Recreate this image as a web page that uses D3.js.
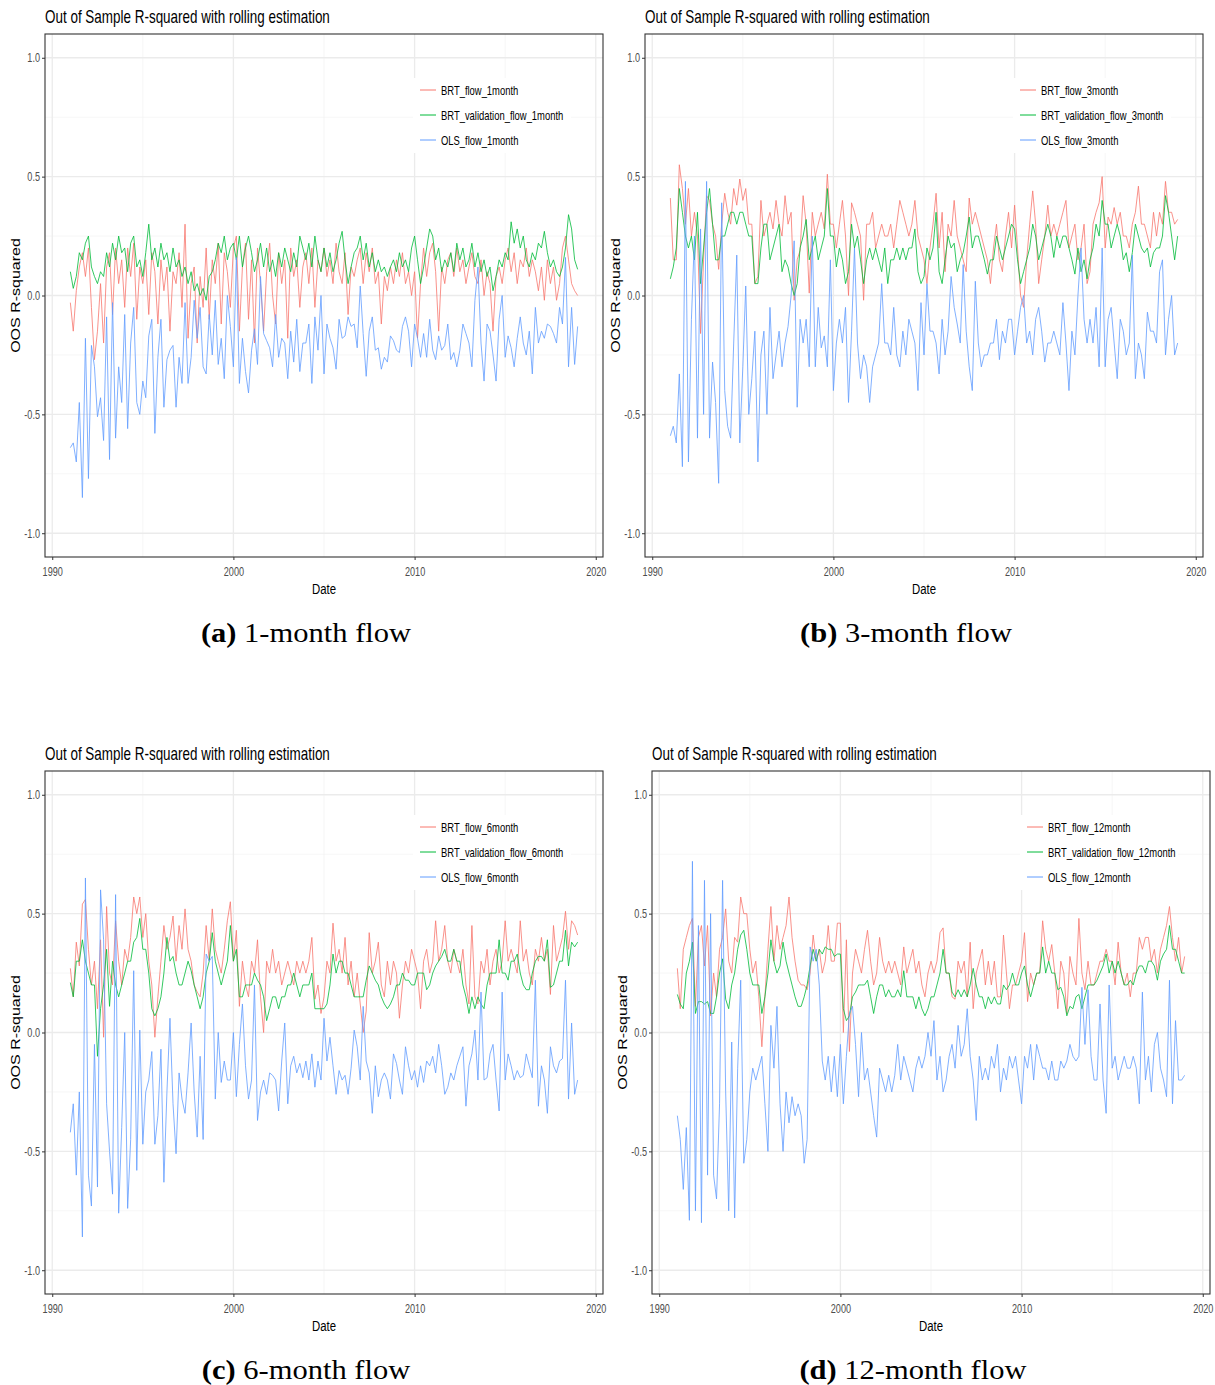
<!DOCTYPE html>
<html>
<head>
<meta charset="utf-8">
<script src="https://cdn.jsdelivr.net/npm/d3@7"></script>
<style>
    body { margin: 0; background: #fff; }
    svg { display: block; }
</style>
</head>
<body>
<svg id="fig" width="1215" height="1385"></svg>
<script>
// bimonthly OOS R-squared, Jan 1991 .. Jan 2019 (one line per year)
const brt1 = [
    -0.03, -0.15, 0.02, 0.12, 0.18, 0.08,
    0.2, -0.05, -0.27, -0.15, 0.05, -0.2,
    0.12, 0.18, -0.08, 0.2, 0.05, 0.15,
    -0.05, 0.2, 0.08, 0.22, -0.1, 0.12,
    0.05, 0.15, -0.08, 0.18, 0.1, -0.12,
    0.15, 0.02, 0.12, -0.15, 0.1, 0.05,
    0.18, -0.05, 0.3, -0.18, 0.05, 0.12,
    -0.2, 0.08, -0.05, 0.2, -0.1, 0.15,
    0.05, 0.22, -0.12, 0.18, 0.1, -0.05,
    0.2, 0.25, -0.15, 0.12, 0.22, -0.1,
    0.15, -0.2, 0.2, 0.05, -0.15, 0.1,
    0.22, 0.0, -0.12, 0.18, 0.05, 0.15,
    -0.18, 0.2, 0.08, 0.15, -0.05, 0.12,
    0.18, 0.05, 0.2, -0.05, 0.15, 0.1,
    0.2, 0.08, 0.15, 0.05, 0.22, 0.1,
    0.05, 0.18, -0.08, 0.12, 0.08, 0.15,
    0.2, 0.05, 0.18, 0.1, 0.2, 0.05,
    0.1, -0.12, 0.08, 0.02, 0.12, 0.05,
    0.15, 0.08, 0.18, 0.05, 0.1, 0.0,
    0.1, -0.18, 0.05, 0.2, 0.08, 0.18,
    0.22, 0.1, -0.15, 0.12, 0.05, 0.15,
    0.18, 0.08, 0.2, 0.1, 0.15, 0.05,
    0.12, 0.18, 0.08, 0.05, 0.15, 0.0,
    0.1, 0.05, -0.15, 0.08, 0.12, 0.05,
    0.15, 0.2, 0.1, 0.18, 0.05, 0.15,
    0.12, 0.2, 0.08, 0.15, 0.1, 0.02,
    0.12, -0.02, 0.15, 0.05, 0.12, -0.02,
    0.05, 0.2, 0.25, 0.15, 0.05, 0.02,
    0.0
]
const val1 = [
    0.1, 0.03, 0.08, 0.18, 0.15, 0.22,
    0.25, 0.12, 0.08, 0.05, 0.1, 0.08,
    0.18, 0.12, 0.22, 0.15, 0.25, 0.18,
    0.2, 0.1, 0.22, 0.25, 0.12, 0.15,
    0.08, 0.18, 0.3, 0.15, 0.2, 0.12,
    0.22, 0.15, 0.18, 0.1, 0.2, 0.12,
    0.15, 0.08, 0.12, 0.05, 0.1, 0.02,
    0.05, 0.0, 0.03, -0.02, 0.08, 0.1,
    0.15, 0.22, 0.18, 0.25, 0.15, 0.2,
    0.22, 0.15, 0.25, 0.12, 0.2, 0.25,
    0.18, 0.1, 0.15, 0.22, 0.12, 0.2,
    0.1, 0.15, 0.08, 0.18, 0.12, 0.2,
    0.15, 0.1, 0.18, 0.12, 0.25, 0.2,
    0.15, 0.22, 0.12, 0.25, 0.15, 0.1,
    0.2, 0.12, 0.18, 0.1, 0.15, 0.22,
    0.27, 0.15, 0.05, 0.12, 0.18, 0.2,
    0.25, 0.15, 0.22, 0.12, 0.18, 0.1,
    0.15, 0.1, 0.12, 0.08, 0.12, 0.15,
    0.1, 0.18, 0.12, 0.15, 0.1, 0.2,
    0.25, 0.15, 0.05, 0.12, 0.2, 0.28,
    0.25, 0.15, 0.2, 0.1, 0.15, 0.12,
    0.18, 0.1, 0.22, 0.15, 0.2, 0.12,
    0.15, 0.22, 0.12, 0.18, 0.1, 0.15,
    0.08, 0.12, 0.02, 0.08, 0.15, 0.12,
    0.18, 0.15, 0.31, 0.22, 0.28, 0.2,
    0.25, 0.15, 0.12, 0.18, 0.15, 0.22,
    0.2, 0.27, 0.18, 0.12, 0.15, 0.1,
    0.08, 0.12, 0.2, 0.34, 0.28, 0.15,
    0.11
]
const ols1 = [
    -0.64, -0.62, -0.7, -0.45, -0.85, -0.18,
    -0.77, -0.21, -0.3, -0.51, -0.43, -0.61,
    -0.09, -0.69, -0.03, -0.6, -0.3, -0.45,
    -0.08, -0.56, -0.2, -0.05, -0.45, -0.5,
    -0.36, -0.43, -0.17, -0.1, -0.58, -0.26,
    -0.1, -0.47, -0.27, -0.23, -0.21, -0.47,
    -0.26, -0.37, -0.03, -0.37, -0.26, -0.02,
    -0.18, -0.05, -0.3, -0.33, -0.08, -0.25,
    -0.02, -0.29, -0.18, -0.35, 0.0, -0.13,
    -0.3, 0.16, -0.37, -0.18, -0.32, -0.41,
    -0.23, -0.14, -0.29, 0.08, -0.16, -0.19,
    -0.22, -0.3, -0.08, -0.26, -0.18, -0.2,
    -0.35, -0.15, -0.28, -0.1, -0.32, -0.2,
    -0.2, -0.12, -0.37, -0.09, -0.23, 0.0,
    -0.33, -0.12, -0.18, -0.22, -0.31, -0.1,
    -0.18, -0.17, -0.09, -0.13, -0.12, -0.22,
    0.04, -0.16, -0.34, -0.15, -0.09, -0.23,
    -0.22, -0.31, -0.26, -0.28, -0.17, -0.19,
    -0.23, -0.24, -0.13, -0.09, -0.15, -0.3,
    -0.12, -0.18, -0.26, -0.16, -0.26, -0.1,
    -0.23, -0.27, -0.17, -0.23, -0.21, -0.12,
    -0.27, -0.24, -0.3, -0.23, -0.12, -0.16,
    -0.2, -0.3, -0.02, 0.12, -0.2, -0.36,
    -0.12, -0.15, -0.25, -0.36, -0.1, 0.0,
    -0.26, -0.17, -0.22, -0.3, -0.18, -0.09,
    -0.2, -0.25, -0.15, -0.33, -0.05, -0.2,
    -0.15, -0.18, -0.12, -0.13, -0.16, -0.2,
    -0.05, -0.12, 0.16, -0.3, -0.05, -0.29,
    -0.13
]

const brt3 = [
    0.41, 0.15, 0.15, 0.55, 0.45, 0.3,
    0.45, 0.25, 0.35, 0.25, -0.16, 0.15,
    0.42, 0.4, 0.3, 0.25, 0.11, 0.3,
    0.43, 0.35, 0.3, 0.45, 0.38, 0.49,
    0.4, 0.45, 0.3, 0.3, 0.05, 0.08,
    0.4, 0.25, 0.3, 0.35, 0.28, 0.4,
    0.3, 0.25, 0.42, 0.3, 0.35, -0.02,
    0.15, 0.19, 0.42, 0.3, 0.01, 0.35,
    0.25, 0.3, 0.35, 0.28, 0.51, 0.3,
    0.3, 0.2, 0.3, 0.4, 0.25, 0.0,
    0.39, 0.35, 0.3, 0.25, -0.02, 0.3,
    0.3, 0.35, 0.2, 0.25, 0.3, 0.25,
    0.25, 0.3, 0.2, 0.3, 0.4, 0.35,
    0.3, 0.25, 0.3, 0.4, 0.25, 0.2,
    0.15, 0.05, 0.2, 0.3, 0.43, 0.2,
    0.35, 0.1, 0.3, 0.25, 0.4, 0.25,
    0.2, 0.15, 0.1, 0.41, 0.3, 0.35,
    0.3, 0.25, 0.2, 0.15, 0.05, 0.2,
    0.3, 0.15, 0.1, 0.25, 0.35, 0.2,
    0.38, 0.2, 0.0, -0.05, 0.15, 0.3,
    0.44, 0.3, 0.05, 0.15, 0.25, 0.38,
    0.25, 0.3, 0.25, 0.3, 0.35, 0.4,
    0.2, 0.25, 0.3, 0.15, 0.2, 0.3,
    0.05, 0.1, 0.3, 0.35, 0.39, 0.5,
    0.2, 0.33, 0.3, 0.37, 0.3, 0.35,
    0.25, 0.25, 0.2, 0.3, 0.35, 0.46,
    0.3, 0.3, 0.25, 0.2, 0.35, 0.25,
    0.35, 0.3, 0.48, 0.35, 0.35, 0.3,
    0.32
]
const val3 = [
    0.07, 0.12, 0.2, 0.45, 0.35, 0.25,
    0.2, 0.25, 0.15, 0.35, 0.05, 0.2,
    0.35, 0.45, 0.3, 0.15, 0.15, 0.25,
    0.25, 0.3, 0.35, 0.35, 0.3, 0.35,
    0.35, 0.3, 0.25, 0.25, 0.05, 0.05,
    0.2, 0.3, 0.3, 0.15, 0.2, 0.25,
    0.3, 0.1, 0.15, 0.12, 0.05, 0.0,
    0.05, 0.2, 0.25, 0.32, 0.15, 0.2,
    0.25, 0.15, 0.2, 0.25, 0.45, 0.25,
    0.25, 0.12, 0.2, 0.15, 0.05, 0.1,
    0.3, 0.2, 0.25, 0.15, 0.05, 0.15,
    0.2, 0.15, 0.2, 0.15, 0.1, 0.2,
    0.05, 0.15, 0.15, 0.2, 0.15, 0.2,
    0.15, 0.2, 0.2, 0.28, 0.1, 0.05,
    0.08, 0.2, 0.15, 0.2, 0.35, 0.1,
    0.05, 0.15, 0.25, 0.2, 0.22, 0.1,
    0.15, 0.18, 0.25, 0.33, 0.2, 0.25,
    0.25, 0.2, 0.15, 0.09, 0.15, 0.15,
    0.25, 0.2, 0.15, 0.2, 0.25, 0.3,
    0.28, 0.15, 0.05, 0.1, 0.15, 0.2,
    0.3, 0.25, 0.15, 0.2, 0.25, 0.3,
    0.25, 0.16, 0.25, 0.2, 0.25, 0.25,
    0.2, 0.15, 0.09, 0.2, 0.1, 0.15,
    0.07, 0.15, 0.2, 0.3, 0.25, 0.4,
    0.3, 0.3, 0.2, 0.25, 0.3, 0.25,
    0.15, 0.18, 0.1, 0.18, 0.3, 0.25,
    0.2, 0.18, 0.2, 0.12, 0.18, 0.2,
    0.2, 0.25, 0.42, 0.35, 0.25, 0.15,
    0.25
]
const ols3 = [
    -0.59, -0.55, -0.62, -0.33, -0.72, 0.48,
    -0.7, -0.1, 0.25, -0.6, 0.28, -0.5,
    0.48, -0.6, -0.28, -0.45, -0.79, 0.39,
    -0.4, -0.55, -0.6, -0.2, 0.17, -0.62,
    -0.3, 0.04, -0.5, -0.35, -0.15, -0.7,
    -0.25, -0.15, -0.5, -0.05, -0.35, -0.25,
    -0.15, -0.3, -0.2, -0.13, 0.0, 0.23,
    -0.47, -0.1, -0.2, -0.1, -0.3, 0.25,
    -0.3, -0.05, -0.22, -0.17, -0.3, 0.15,
    -0.4, -0.2, -0.1, -0.2, -0.05, -0.45,
    -0.15, 0.2, -0.2, -0.35, -0.25, -0.3,
    -0.45, -0.3, -0.25, -0.2, 0.05, -0.2,
    -0.2, -0.25, -0.05, -0.25, -0.3, -0.15,
    -0.25, -0.1, -0.15, -0.2, -0.4, -0.03,
    -0.25, 0.05, -0.15, -0.15, -0.2, -0.33,
    -0.1, -0.25, -0.15, 0.08, -0.05, -0.12,
    -0.2, 0.13, -0.15, -0.3, -0.4, 0.06,
    -0.2, -0.3, -0.25, -0.25, -0.2, -0.2,
    -0.1, -0.27, -0.15, -0.2, -0.1, -0.1,
    -0.25, -0.15, -0.05, 0.0, -0.2, -0.15,
    -0.25, -0.1, -0.05, -0.15, -0.28, -0.2,
    -0.2, -0.15, -0.2, -0.25, -0.03, -0.2,
    -0.4, -0.15, -0.25, 0.0, 0.2, -0.1,
    -0.2, -0.1, -0.2, -0.05, -0.3, 0.2,
    -0.3, -0.1, -0.05, -0.2, -0.35, -0.1,
    -0.15, -0.25, -0.2, 0.17, -0.35, -0.2,
    -0.25, -0.35, -0.07, -0.15, -0.15, -0.2,
    0.1, 0.15, -0.25, -0.1, 0.0, -0.25,
    -0.2
]

const brt6 = [
    0.27, 0.15, 0.38, 0.28, 0.54, 0.56,
    0.35, 0.2, 0.3, 0.1, 0.39, -0.02,
    0.53, 0.25, 0.2, 0.47, 0.3, 0.2,
    0.35, 0.3, 0.4, 0.57, 0.5, 0.57,
    0.4, 0.5, 0.3, 0.2, -0.02, 0.15,
    0.3, 0.45, 0.35, 0.4, 0.49, 0.3,
    0.45, 0.35, 0.52, 0.35, 0.3, 0.2,
    0.17, 0.15, 0.25, 0.45, 0.3, 0.52,
    0.35, 0.3, 0.25, 0.35, 0.47, 0.55,
    0.3, 0.43, 0.11, 0.3, 0.2, 0.15,
    0.3, 0.25, 0.39, 0.15, 0.0, 0.3,
    0.25, 0.35, 0.25, 0.3, 0.2, 0.25,
    0.3, 0.25, 0.2, 0.3, 0.25, 0.3,
    0.25, 0.3, 0.4, 0.14, 0.2, 0.08,
    0.15, 0.3, 0.25, 0.46, 0.3, 0.35,
    0.25, 0.4, 0.2, 0.3, 0.15, 0.25,
    0.12, 0.0, 0.09, 0.42, 0.25, 0.3,
    0.38, 0.2, 0.15, 0.3, 0.2, 0.3,
    0.25, 0.06, 0.2, 0.3, 0.25, 0.35,
    0.3, 0.25, 0.1, 0.3, 0.35, 0.25,
    0.3, 0.47, 0.3, 0.35, 0.45, 0.3,
    0.25, 0.35, 0.3, 0.25, 0.35, 0.2,
    0.12, 0.45, 0.15, 0.12, 0.3, 0.25,
    0.35, 0.2, 0.3, 0.35, 0.25, 0.3,
    0.47, 0.3, 0.35, 0.3, 0.25, 0.47,
    0.3, 0.35, 0.25, 0.2, 0.35, 0.3,
    0.4, 0.3, 0.35, 0.16, 0.45, 0.3,
    0.35, 0.4, 0.51, 0.35, 0.47, 0.45,
    0.41
]
const val6 = [
    0.21, 0.15, 0.3, 0.3, 0.39, 0.3,
    0.25, 0.2, 0.2, -0.1, 0.1, 0.2,
    0.35, 0.11, 0.3, 0.2, 0.15, 0.2,
    0.25, 0.3, 0.3, 0.38, 0.4, 0.48,
    0.35, 0.35, 0.25, 0.1, 0.07, 0.1,
    0.15, 0.25, 0.4, 0.3, 0.32, 0.25,
    0.2, 0.2, 0.25, 0.3, 0.26, 0.2,
    0.15, 0.1, 0.15, 0.25, 0.3, 0.42,
    0.3, 0.25, 0.2, 0.25, 0.3, 0.45,
    0.3, 0.35, 0.15, 0.15, 0.2, 0.2,
    0.2, 0.25, 0.22, 0.2, 0.15, 0.05,
    0.1, 0.15, 0.15, 0.1, 0.15, 0.15,
    0.2, 0.2, 0.25, 0.2, 0.15, 0.2,
    0.2, 0.2, 0.25, 0.1, 0.1, 0.1,
    0.1, 0.12, 0.2, 0.33, 0.25, 0.3,
    0.3, 0.25, 0.25, 0.2, 0.15, 0.15,
    0.15, 0.15, 0.22, 0.28, 0.25, 0.22,
    0.2, 0.15, 0.12, 0.1, 0.12, 0.15,
    0.2, 0.2, 0.25, 0.22, 0.22, 0.2,
    0.2, 0.25, 0.25, 0.25, 0.18, 0.2,
    0.25, 0.28, 0.3, 0.32, 0.35, 0.3,
    0.3, 0.35, 0.3, 0.3, 0.2, 0.15,
    0.08, 0.15, 0.1, 0.15, 0.12, 0.1,
    0.2, 0.25, 0.25, 0.25, 0.39, 0.25,
    0.25, 0.22, 0.3, 0.3, 0.33, 0.25,
    0.2, 0.18, 0.18, 0.25, 0.3, 0.32,
    0.32, 0.3, 0.39, 0.19, 0.2, 0.25,
    0.3, 0.3, 0.43, 0.28, 0.38, 0.36,
    0.38
]
const ols6 = [
    -0.42, -0.3, -0.6, -0.25, -0.86, 0.65,
    -0.6, -0.73, -0.05, -0.65, 0.6, 0.39,
    -0.3, -0.5, -0.68, 0.58, -0.76, -0.4,
    0.0, -0.74, -0.45, 0.26, -0.58, 0.01,
    -0.47, -0.25, -0.2, -0.08, -0.47, -0.35,
    -0.07, -0.63, -0.25, 0.06, -0.3, -0.51,
    -0.17, -0.28, -0.34, -0.17, 0.04, -0.25,
    -0.44, -0.1, -0.45, 0.33, 0.3, 0.32,
    -0.28, 0.0, -0.21, -0.12, -0.2, -0.2,
    0.0, -0.27, -0.05, 0.12, -0.14, -0.28,
    -0.2, 0.2, -0.37, -0.25, -0.2, -0.26,
    -0.17, -0.18, -0.2, -0.33, -0.12, 0.04,
    -0.3, -0.14, -0.1, -0.17, -0.13, -0.19,
    -0.12, -0.2, -0.09, -0.23, -0.12, -0.2,
    0.06, -0.12, -0.02, -0.14, -0.26, -0.16,
    -0.2, -0.18, -0.26, -0.15, 0.01, -0.06,
    -0.2, 0.11, -0.12, -0.17, -0.34, -0.14,
    -0.27, -0.2, -0.17, -0.2, -0.28, -0.09,
    -0.13, -0.2, -0.26, -0.06, -0.14, -0.2,
    -0.16, -0.23, -0.14, -0.21, -0.12, -0.14,
    -0.1, -0.17, -0.05, -0.14, -0.26, -0.23,
    -0.17, -0.2, -0.14, -0.1, -0.06, -0.31,
    -0.14, -0.09, 0.01, -0.2, 0.17, -0.2,
    -0.19, -0.09, -0.05, -0.2, -0.33, 0.17,
    -0.2, -0.09, -0.14, -0.2, -0.16, -0.19,
    -0.18, -0.09, -0.14, -0.19, 0.22, -0.31,
    -0.14, -0.2, -0.34, -0.06, -0.14, -0.17,
    -0.12, -0.11, 0.22, -0.28, 0.04, -0.26,
    -0.2
]

const brt12 = [
    0.27, 0.1, 0.35, 0.4, 0.45, 0.48,
    0.11, 0.4, 0.45, 0.28, 0.45, 0.07,
    0.25, 0.15, 0.35, 0.4, 0.52, 0.3,
    0.25, 0.4, 0.38, 0.57, 0.5, 0.5,
    0.35, 0.25, 0.3, 0.15, -0.06, 0.15,
    0.35, 0.53, 0.3, 0.45, 0.35, 0.4,
    0.45, 0.57, 0.4, 0.3, 0.22, 0.2,
    0.2, 0.18, 0.25, 0.41, 0.3, 0.35,
    0.25, 0.3, 0.45, 0.3, 0.3, 0.46,
    0.46, 0.0, 0.39, -0.08, 0.25, 0.35,
    0.3, 0.25, 0.35, 0.43, 0.3, 0.2,
    0.25, 0.4, 0.3, 0.25, 0.3, 0.25,
    0.3, 0.25, 0.2, 0.36, 0.25, 0.3,
    0.35, 0.25, 0.3, 0.2, 0.15, 0.25,
    0.3, 0.25, 0.3, 0.42, 0.44, 0.25,
    0.25, 0.15, 0.14, 0.3, 0.25, 0.3,
    0.15, 0.38, 0.1, 0.25, 0.3, 0.35,
    0.2, 0.3, 0.2, 0.3, 0.15, 0.15,
    0.41, 0.25, 0.1, 0.2, 0.2, 0.25,
    0.3, 0.42, 0.13, 0.25, 0.2, 0.25,
    0.25, 0.47, 0.35, 0.3, 0.37, 0.25,
    0.1, 0.3, 0.25, 0.08, 0.32, 0.25,
    0.2, 0.48, 0.25, 0.18, 0.3, 0.2,
    0.2, 0.25, 0.3, 0.3, 0.35, 0.3,
    0.3, 0.2, 0.38, 0.25, 0.2, 0.25,
    0.15, 0.25, 0.25, 0.4, 0.35, 0.4,
    0.4, 0.3, 0.35, 0.25, 0.35, 0.4,
    0.45, 0.53, 0.4, 0.3, 0.4, 0.25,
    0.32
]
const val12 = [
    0.16, 0.12, 0.1, 0.25, 0.3, 0.38,
    0.08, 0.13, 0.13, 0.12, 0.13, 0.08,
    0.08, 0.15, 0.25, 0.31, 0.14, 0.1,
    0.2, 0.25, 0.35, 0.41, 0.43, 0.35,
    0.25, 0.2, 0.2, 0.2, 0.08, 0.15,
    0.25, 0.39, 0.3, 0.25, 0.28, 0.38,
    0.3, 0.25, 0.2, 0.15, 0.11, 0.11,
    0.15, 0.2, 0.28, 0.35, 0.3, 0.35,
    0.33, 0.36, 0.35, 0.35, 0.32, 0.33,
    0.33, 0.1, 0.05, 0.07, 0.15, 0.17,
    0.2, 0.2, 0.2, 0.22, 0.15, 0.08,
    0.15, 0.2, 0.2, 0.15, 0.18, 0.15,
    0.15, 0.18, 0.15, 0.26, 0.15, 0.15,
    0.15, 0.1, 0.15, 0.1, 0.07, 0.1,
    0.15, 0.15, 0.2, 0.25, 0.35, 0.25,
    0.25, 0.17, 0.15, 0.18, 0.15, 0.18,
    0.15, 0.2, 0.27, 0.2, 0.15, 0.15,
    0.1, 0.15, 0.12, 0.15, 0.12, 0.12,
    0.2, 0.18, 0.2, 0.25, 0.2, 0.2,
    0.25, 0.28, 0.2, 0.15, 0.2, 0.25,
    0.25, 0.36, 0.25, 0.3, 0.25, 0.25,
    0.18, 0.19, 0.15, 0.07, 0.11, 0.1,
    0.15, 0.16, 0.1, 0.15, 0.2, 0.2,
    0.2, 0.22, 0.25, 0.28, 0.33, 0.25,
    0.3, 0.25, 0.3, 0.25, 0.2, 0.2,
    0.22, 0.2, 0.25, 0.28, 0.28, 0.25,
    0.3, 0.3, 0.28, 0.22, 0.3, 0.33,
    0.35, 0.45, 0.35, 0.35, 0.3, 0.25,
    0.25
]
const ols12 = [
    -0.35, -0.45, -0.66, -0.4, -0.79, 0.72,
    -0.75, 0.45, -0.8, 0.64, -0.6, 0.5,
    -0.6, -0.7, -0.3, 0.64, -0.25, -0.75,
    -0.04, -0.78, -0.15, 0.22, -0.55, -0.45,
    -0.25, -0.15, -0.2, -0.15, -0.1, -0.3,
    -0.5, 0.03, -0.15, 0.11, -0.3, -0.5,
    -0.25, -0.38, -0.27, -0.35, -0.3, -0.35,
    -0.55, -0.45, 0.36, 0.3, 0.35, 0.2,
    -0.12, -0.2, -0.1, -0.25, -0.1, -0.27,
    -0.05, -0.3, -0.1, 0.08, 0.11, -0.05,
    -0.27, 0.0, -0.2, -0.15, -0.25, -0.35,
    -0.44, -0.15, -0.2, -0.25, -0.18, -0.25,
    -0.18, -0.05, -0.2, -0.1, -0.15, -0.2,
    -0.25, -0.15, -0.1, -0.15, -0.1, 0.0,
    -0.1, 0.05, -0.2, -0.1, -0.25, -0.2,
    -0.1, -0.05, -0.15, 0.03, -0.1, -0.05,
    0.1, -0.1, -0.2, -0.37, -0.1, -0.2,
    -0.15, -0.2, -0.1, -0.15, -0.05, -0.25,
    -0.15, -0.2, -0.1, -0.15, -0.1, -0.2,
    -0.3, -0.1, -0.15, -0.05, -0.2, -0.05,
    -0.1, -0.15, -0.15, -0.2, -0.12, -0.2,
    -0.2, -0.12, -0.15, -0.12, -0.05, -0.1,
    -0.12, -0.1, 0.19, -0.05, 0.18, -0.1,
    -0.2, -0.2, 0.12, -0.2, -0.34, 0.2,
    -0.15, -0.1, -0.2, -0.15, -0.1, -0.15,
    -0.15, -0.1, -0.15, -0.3, 0.17, -0.2,
    -0.1, -0.25, -0.05, 0.0, -0.15, -0.2,
    -0.27, 0.22, -0.3, 0.05, -0.2, -0.2,
    -0.18
]

const horizons = ['1month', '3month', '6month', '12month']
const tags = ['(a)', '(b)', '(c)', '(d)']
const captions = ['1-month flow', '3-month flow', '6-month flow', '12-month flow']
const yTicks = [-1, -0.5, 0, 0.5, 1]
const yMinor = [-0.75, -0.25, 0.25, 0.75]
const xTickYears = [1990, 2000, 2010, 2020]
const xMinorYears = [1995, 2005, 2015]

const series = [
    [brt1, val1, ols1],
    [brt3, val3, ols3],
    [brt6, val6, ols6],
    [brt12, val12, ols12]
]

const colors = ['#F8766D', '#00BA38', '#619CFF']
const sx = 0.76
const W = 558, H = 523
const panels = [
    { left: 45, top: 34 },
    { left: 645, top: 34 },
    { left: 45, top: 771 },
    { left: 652, top: 771 }
]

const dates = d3.timeMonth.every(2).range(new Date(1991, 0, 1), new Date(2019, 0, 2))

const x = d3.scaleTime()
    .domain([new Date(1989, 7, 8), new Date(2020, 4, 26)])
    .range([0, W])
const y = d3.scaleLinear()
    .domain([-1.1, 1.1])
    .range([H, 0])

const line = d3.line()
    .x((d, i) => x(dates[i]))
    .y((d) => y(d))

const fmt = (d) => d3.format('.1f')(d).replace('\u2212', '-')
const sans = 'Liberation Sans, Arial, sans-serif'

const svg = d3.select('#fig')
svg.append('rect').attr('width', 1215).attr('height', 1385).attr('fill', '#fff')

panels.forEach((p, k) => {
    const g = svg.append('g').attr('transform', `translate(${p.left},${p.top})`)

    g.append('rect').attr('width', W).attr('height', H).attr('fill', '#fff')

    g.selectAll('.hmin').data(yMinor).enter().append('line')
        .attr('x1', 0).attr('x2', W)
        .attr('y1', (d) => y(d)).attr('y2', (d) => y(d))
        .attr('stroke', '#F2F2F2').attr('stroke-width', 0.7)
    g.selectAll('.vmin').data(xMinorYears).enter().append('line')
        .attr('y1', 0).attr('y2', H)
        .attr('x1', (d) => x(new Date(d, 0, 1))).attr('x2', (d) => x(new Date(d, 0, 1)))
        .attr('stroke', '#F2F2F2').attr('stroke-width', 0.7)
    g.selectAll('.hmaj').data(yTicks).enter().append('line')
        .attr('x1', 0).attr('x2', W)
        .attr('y1', (d) => y(d)).attr('y2', (d) => y(d))
        .attr('stroke', '#EBEBEB').attr('stroke-width', 1.3)
    g.selectAll('.vmaj').data(xTickYears).enter().append('line')
        .attr('y1', 0).attr('y2', H)
        .attr('x1', (d) => x(new Date(d, 0, 1))).attr('x2', (d) => x(new Date(d, 0, 1)))
        .attr('stroke', '#EBEBEB').attr('stroke-width', 1.3)

    g.selectAll('.series').data(series[k]).enter().append('path')
        .attr('d', (d) => line(d))
        .attr('fill', 'none')
        .attr('stroke', (d, i) => colors[i])
        .attr('stroke-width', 0.8)
        .attr('stroke-linejoin', 'round')

    // legend
    const names = ['BRT_flow_', 'BRT_validation_flow_', 'OLS_flow_'].map((n) => n + horizons[k])
    const lg = g.append('g').attr('transform', 'translate(368,44)')
    lg.append('rect').attr('width', 158).attr('height', 75).attr('fill', '#fff')
    names.forEach((n, i) => {
        lg.append('line')
            .attr('x1', 7).attr('x2', 23)
            .attr('y1', 12 + i * 25).attr('y2', 12 + i * 25)
            .attr('stroke', colors[i]).attr('stroke-width', 1)
        lg.append('text')
            .attr('transform', `translate(28,${16.5 + i * 25}) scale(${sx},1)`)
            .attr('font-family', sans).attr('font-size', 12.4).attr('fill', '#000')
            .text(n)
    })

    g.append('rect').attr('width', W).attr('height', H)
        .attr('fill', 'none').attr('stroke', '#333').attr('stroke-width', 1.1)

    const xAxis = g.append('g').attr('transform', `translate(0,${H})`)
        .call(d3.axisBottom(x)
            .tickValues(xTickYears.map((yr) => new Date(yr, 0, 1)))
            .tickFormat(d3.timeFormat('%Y'))
            .tickSize(3).tickPadding(7))
    const yAxis = g.append('g')
        .call(d3.axisLeft(y).tickValues(yTicks).tickFormat(fmt).tickSize(3).tickPadding(2))

    ;[xAxis, yAxis].forEach((a) => {
        a.select('.domain').remove()
        a.selectAll('.tick line').attr('stroke', '#333')
        a.selectAll('.tick text')
            .attr('fill', '#4D4D4D')
            .attr('font-family', sans)
            .attr('font-size', 12)
            .attr('transform', `scale(${sx},1)`)
    })
    yAxis.selectAll('.tick text').attr('x', -5 / sx)

    g.append('text')
        .attr('transform', `translate(0,-11.5) scale(${sx},1)`)
        .attr('font-family', sans).attr('font-size', 17.7).attr('fill', '#000')
        .text('Out of Sample R-squared with rolling estimation')

    g.append('text')
        .attr('transform', `translate(${W / 2},${H + 37}) scale(${sx},1)`)
        .attr('text-anchor', 'middle')
        .attr('font-family', sans).attr('font-size', 15).attr('fill', '#000')
        .text('Date')

    g.append('text')
        .attr('transform', `translate(-25,${H / 2}) scale(${sx},1) rotate(-90)`)
        .attr('text-anchor', 'middle')
        .attr('font-family', sans).attr('font-size', 16).attr('fill', '#000')
        .text('OOS R-squared')

    const cap = g.append('text')
        .attr('x', 261).attr('y', 608)
        .attr('text-anchor', 'middle')
        .attr('font-family', 'Liberation Serif, Times New Roman, serif')
        .attr('font-size', 27).attr('fill', '#000')
    cap.append('tspan').attr('font-weight', 'bold').text(tags[k])
    cap.append('tspan').text(' ' + captions[k])
    cap.attr('textLength', cap.node().getComputedTextLength() * 1.13)
        .attr('lengthAdjust', 'spacingAndGlyphs')
})
</script>
</body>
</html>
